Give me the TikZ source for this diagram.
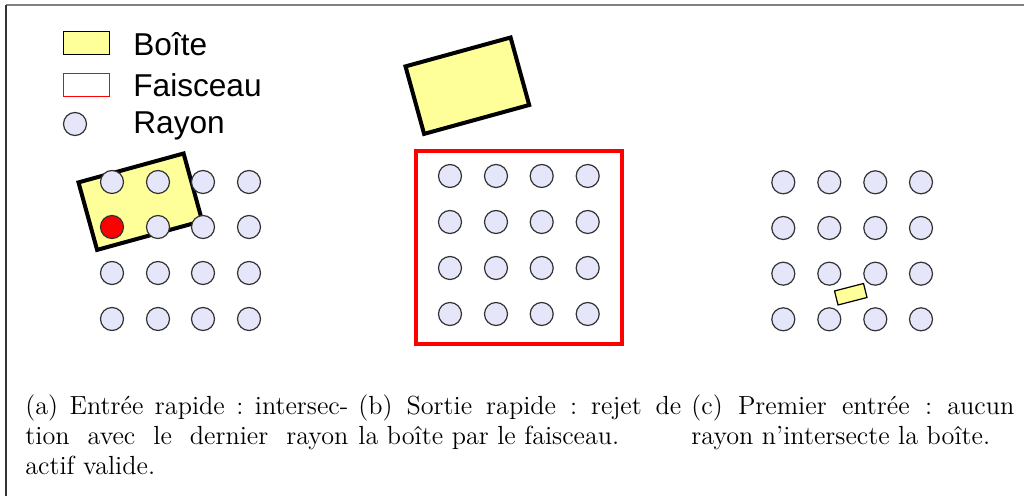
\documentclass[tikz,border=0pt]{standalone}
\usepackage{fontspec}
\newfontfamily\legendfont{Liberation Sans}
\definecolor{boxfill}{HTML}{FFFF99}
\definecolor{rayfill}{HTML}{E6E6FA}
\definecolor{raystroke}{HTML}{333333}
\definecolor{framegray}{HTML}{808080}
\definecolor{framedark}{HTML}{333333}
\begin{document}
\frenchspacing
\begin{tikzpicture}[x=0.5pt,y=-0.5pt,
  ray/.style={circle,draw=raystroke,line width=0.6pt,minimum size=11.5pt,inner sep=0pt},
  boxshape/.style={draw=black,fill=boxfill,line width=2pt,line join=miter},
  smallbox/.style={draw=black,fill=boxfill,line width=0.6pt,line join=miter},
  legtext/.style={font=\legendfont\fontsize{15.8}{18}\selectfont,anchor=base west,inner sep=0pt},
  captext/.style={anchor=north west,inner sep=0pt,text width=161.5pt,align=justify,font=\fontsize{13.1}{15}\selectfont}]
\useasboundingbox (0,0) rectangle (1024,496);
\fill[white] (0,0) rectangle (1024,496);
\draw[framegray,line width=0.8pt] (6,5) -- (1024,5);
\draw[framedark,line width=0.8pt] (6,5) -- (6,496);

% legend
\draw[black,fill=boxfill,line width=0.5pt] (63,32) rectangle (109,55);
\draw[red,line width=0.5pt] (63,74) rectangle (109,97);
\node[ray,fill=rayfill] (lray) at (75,124) {};
\node[legtext] (lbox) at (133,56) {Boîte};
\node[legtext] (lbeam) at (133,97) {Faisceau};
\node[legtext] (lrayt) at (133,134) {Rayon};

% panel (a)
\draw[boxshape] (78.5,182.4) -- (183.6,153.5) -- (202.2,221) -- (97.1,249.9) -- cycle;
\foreach \i/\x in {1/112,2/158,3/203,4/249}
  \foreach \j/\y in {1/182,2/227,3/273,4/319}
  {\def\rc{rayfill}\ifnum\i\j=12 \def\rc{red}\fi
   \node[ray,fill=\rc] (a\i\j) at (\x,\y) {};}

% panel (b)
\draw[boxshape] (405.5,66.4) -- (510.6,37.5) -- (529.2,105) -- (424.1,133.9) -- cycle;
\draw[red,line width=2pt] (415.5,151) rectangle (622,344);
\foreach \i/\x in {1/450,2/496,3/541.7,4/587.7}
  \foreach \j/\y in {1/176,2/222,3/268,4/314}
   \node[ray,fill=rayfill] (b\i\j) at (\x,\y) {};

% panel (c)
\foreach \i/\x in {1/783.3,2/829.3,3/875.3,4/921}
  \foreach \j/\y in {1/182.3,2/228,3/273.7,4/319.3}
   \node[ray,fill=rayfill] (c\i\j) at (\x,\y) {};
\draw[smallbox] (834.5,291) -- (863.5,283.5) -- (867,297.5) -- (838,305) -- cycle;

% captions
\node[captext] (capa) at (25,394) {(a) Entrée rapide : intersec-\linebreak tion avec le dernier rayon\linebreak actif valide.};
\node[captext] (capb) at (358,394) {(b) Sortie rapide : rejet de\linebreak la boîte par le faisceau.};
\node[captext] (capc) at (691,394) {(c) Premier entrée : aucun\linebreak rayon n’intersecte la boîte.};
\end{tikzpicture}
\end{document}
